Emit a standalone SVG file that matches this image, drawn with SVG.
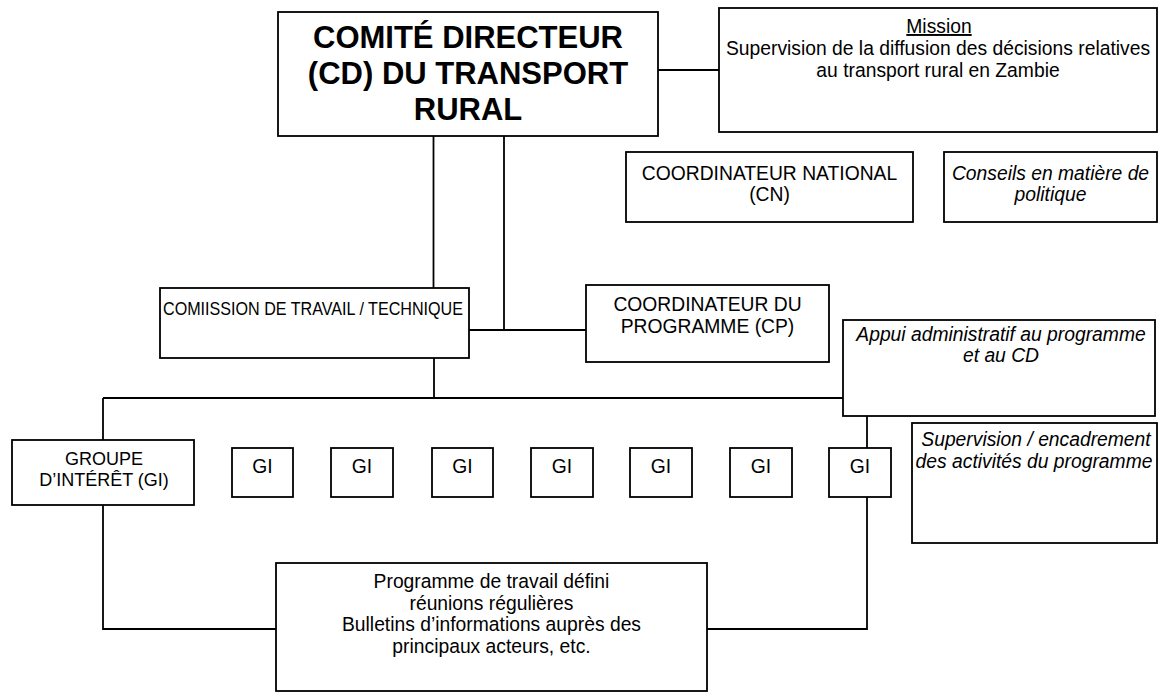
<svg xmlns="http://www.w3.org/2000/svg" width="1159" height="694" viewBox="0 0 1159 694">
<style>
.box{fill:#fff;stroke:#000;stroke-width:1.8}
.ln{fill:none;stroke:#000;stroke-width:1.8}
text{font-family:"Liberation Sans",Arial,sans-serif;fill:#000;font-size:19.3px;text-anchor:middle}
.b{font-weight:bold;font-size:31px}
.i{font-style:italic}
.s18{font-size:18px}
</style>
<rect width="1159" height="694" fill="#fff"/>
<g id="connectors">
<path class="ln" d="M658 70H719"/>
<path class="ln" d="M433.5 136V288"/>
<path class="ln" d="M504 136V330M469 330H586"/>
<path class="ln" d="M434 358V398M103 398H843M103 398V440"/>
<path class="ln" d="M103 505V629H276"/>
<path class="ln" d="M867 416V448M867 497V629H707"/>
</g>
<g id="cd">
<rect class="box" x="278" y="12" width="380" height="124"/>
<text class="b" x="468" y="48">COMITÉ DIRECTEUR</text>
<text class="b" x="468" y="84">(CD) DU TRANSPORT</text>
<text class="b" x="468" y="119.5">RURAL</text>
</g>
<g id="mission">
<rect class="box" x="719" y="8" width="438" height="124"/>
<text x="939" y="33" text-decoration="underline">Mission</text>
<text x="938" y="55">Supervision de la diffusion des décisions relatives</text>
<text x="938" y="77">au transport rural en Zambie</text>
</g>
<g id="cn">
<rect class="box" x="626" y="152" width="287" height="70"/>
<text x="769.5" y="180">COORDINATEUR NATIONAL</text>
<text x="769.5" y="201">(CN)</text>
</g>
<g id="conseils">
<rect class="box" x="944" y="152" width="213" height="70"/>
<text class="i" x="1050.5" y="180">Conseils en matière de</text>
<text class="i" x="1050.5" y="201">politique</text>
</g>
<g id="ct">
<rect class="box" x="160" y="288" width="309" height="70"/>
<text x="163" y="315" style="text-anchor:start;font-size:18.5px" textLength="300" lengthAdjust="spacingAndGlyphs">COMIISSION DE TRAVAIL / TECHNIQUE</text>
</g>
<g id="cp">
<rect class="box" x="586" y="285" width="243" height="77"/>
<text x="707.5" y="311">COORDINATEUR DU</text>
<text x="707.5" y="333">PROGRAMME (CP)</text>
</g>
<g id="appui">
<rect class="box" x="843" y="320" width="312" height="96"/>
<text class="i" x="1001" y="341">Appui administratif au programme</text>
<text class="i" x="1001" y="362">et au CD</text>
</g>
<g id="supervision">
<rect class="box" x="912" y="423" width="245" height="120"/>
<text class="i" x="1036" y="446">Supervision / encadrement</text>
<text class="i" x="1034" y="468">des activités du programme</text>
</g>
<g id="groupe">
<rect class="box" x="12" y="440" width="182" height="65"/>
<text class="s18" x="104" y="465">GROUPE</text>
<text class="s18" x="104" y="486">D’INTÉRÊT (GI)</text>
</g>
<g id="gi1"><rect class="box" x="232" y="448" width="61" height="49"/><text x="262.5" y="473">GI</text></g>
<g id="gi2"><rect class="box" x="331" y="448" width="62" height="49"/><text x="362" y="473">GI</text></g>
<g id="gi3"><rect class="box" x="432" y="448" width="61" height="49"/><text x="462.5" y="473">GI</text></g>
<g id="gi4"><rect class="box" x="531" y="448" width="62" height="49"/><text x="562" y="473">GI</text></g>
<g id="gi5"><rect class="box" x="630" y="448" width="62" height="49"/><text x="661" y="473">GI</text></g>
<g id="gi6"><rect class="box" x="730" y="448" width="62" height="49"/><text x="761" y="473">GI</text></g>
<g id="gi7"><rect class="box" x="829" y="448" width="62" height="49"/><text x="860" y="473">GI</text></g>
<g id="programme">
<rect class="box" x="276" y="563" width="431" height="128"/>
<text x="491.5" y="588">Programme de travail défini</text>
<text x="491.5" y="609.5">réunions régulières</text>
<text x="491.5" y="631">Bulletins d’informations auprès des</text>
<text x="491.5" y="652.5">principaux acteurs, etc.</text>
</g>
</svg>
